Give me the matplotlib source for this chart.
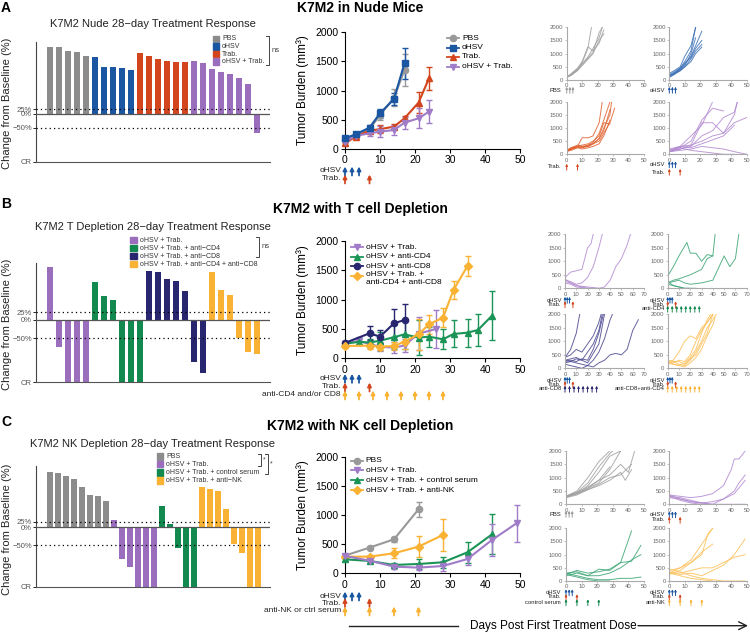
import numpy as np
import matplotlib
matplotlib.use('Agg')
import matplotlib.pyplot as plt
from matplotlib.transforms import blended_transform_factory
from matplotlib.patches import Rectangle

plt.rcParams['font.family'] = ['Liberation Sans', 'DejaVu Sans']

# colours
c_grey = '#8c8c8c'
c_blue = '#1b56a2'
c_orange = '#d3461d'
c_purple = '#9b6dbd'
c_green = '#12894f'
c_navy = '#28266f'
c_yellow = '#f9b233'

# ---------------- waterfall data (% change at day 28, CR = -100) ----------------
wa_pbs = [336, 335, 317, 308, 292]
wa_ohsv = [287, 235, 235, 232, 220]
wa_trab = [303, 292, 275, 263, 260, 260]
wa_combo = [263, 253, 223, 210, 202, 182, 152, -57]

wb_combo = [177, -60, -100, -100, -100]
wb_cd4 = [128, 78, 66, -100, -100, -100]
wb_cd8 = [165, 162, 138, 130, 97, -77, -90]
wb_both = [160, 99, 84, -50, -66, -68]

wc_pbs = [248, 242, 230, 214, 180, 144, 141, 117]
wc_combo = [31, -67, -76, -100, -100, -100]
wc_ctrl = [95, 15, -53, -100, -100]
wc_nk = [181, 171, 163, 82, -47, -59, -100, -100]

# ---------------- mean tumour burden (mm3) ----------------
a_pbs_d = [0, 3, 7, 10, 14, 17]
a_pbs = [150, 220, 340, 580, 880, 1354]
a_pbs_e = [30, 40, 50, 80, 150, 280]
a_ohsv_d = [0, 3, 7, 10, 14, 17]
a_ohsv = [183, 251, 366, 611, 857, 1469]
a_ohsv_e = [30, 40, 50, 80, 110, 270]
a_trab_d = [0, 3, 7, 10, 14, 17, 21, 24]
a_trab = [97, 211, 314, 340, 383, 526, 794, 1211]
a_trab_e = [25, 30, 40, 70, 40, 40, 180, 200]
a_combo_d = [0, 3, 7, 10, 14, 17, 21, 24]
a_combo = [126, 223, 269, 297, 326, 451, 526, 640]
a_combo_e = [20, 40, 50, 90, 90, 100, 170, 200]

b_combo_d = [0, 4, 7, 10, 14, 17, 21, 26]
b_combo = [250, 300, 240, 200, 180, 220, 420, 500]
b_combo_e = [30, 60, 70, 80, 90, 110, 280, 320]
b_cd4_d = [0, 4, 7, 10, 14, 17, 21, 24, 28, 31, 35, 38, 42]
b_cd4 = [250, 280, 270, 300, 360, 409, 352, 369, 324, 415, 437, 483, 727]
b_cd4_e = [30, 50, 60, 150, 200, 250, 300, 170, 170, 230, 240, 270, 420]
b_cd8_d = [0, 7, 10, 14, 17]
b_cd8 = [262, 426, 369, 597, 653]
b_cd8_e = [30, 120, 110, 240, 280]
b_both_d = [0, 7, 10, 14, 17, 21, 24, 28, 31, 35]
b_both = [210, 216, 199, 210, 284, 409, 580, 693, 1165, 1574]
b_both_e = [30, 50, 50, 60, 120, 260, 160, 160, 160, 165]

c_pbs_d = [0, 7, 14, 21]
c_pbs = [305, 443, 586, 1103]
c_pbs_e = [25, 30, 40, 125]
c_combo_d = [0, 7, 14, 21, 28, 35, 42, 49]
c_combo = [299, 218, 115, 98, 126, 247, 575, 862]
c_combo_e = [30, 30, 40, 40, 80, 110, 270, 320]
c_ctrl_d = [0, 7, 14, 21, 28, 35, 42]
c_ctrl = [241, 213, 144, 161, 190, 362, 672]
c_ctrl_e = [30, 30, 40, 80, 90, 180, 345]
c_nk_d = [0, 7, 14, 21, 28]
c_nk = [287, 287, 345, 460, 661]
c_nk_e = [30, 30, 85, 180, 280]

# dosing days
ohsv_days = [0, 2, 4]
trab_days = [0, 7]
tdep_days = [0, 4, 8, 12, 16, 20, 24, 28]
nk_days = [0, 7, 14, 21]

# ---------------- individual mice ----------------
sa_pbs = [([0, 3, 7, 10, 14, 16], [100, 250, 450, 700, 1300, 2000]),
          ([0, 3, 7, 10, 14, 17, 21, 23], [100, 200, 400, 600, 900, 1200, 1600, 2000]),
          ([0, 3, 7, 10, 14, 17, 21, 24], [100, 220, 420, 650, 1250, 1100, 1400, 1900]),
          ([0, 3, 7, 10, 14, 17, 21, 24], [100, 200, 380, 550, 800, 1000, 1500, 1750]),
          ([0, 3, 7, 10, 14, 17, 21, 23], [100, 180, 350, 600, 850, 1050, 1800, 2000])]
sa_ohsv = [([0, 3, 7, 10, 14, 17], [250, 350, 500, 900, 1300, 2000]),
           ([0, 3, 7, 10, 14, 17], [150, 250, 450, 700, 1100, 2000]),
           ([0, 3, 7, 10, 14, 17, 21], [200, 300, 450, 600, 900, 1300, 1850]),
           ([0, 3, 7, 10, 14, 17, 21], [150, 250, 400, 650, 850, 1200, 1500]),
           ([0, 3, 7, 10, 14, 17, 21], [100, 200, 350, 500, 800, 1100, 1350]),
           ([0, 3, 7, 10, 14, 17], [120, 220, 400, 550, 1000, 1600]),
           ([0, 3, 7, 10, 14, 17, 21], [180, 250, 350, 500, 700, 1000, 1250])]
sa_trab = [([0, 3, 7, 10, 14, 17, 21, 23], [100, 250, 300, 630, 630, 700, 1200, 2000]),
           ([0, 3, 7, 10, 14, 17, 21, 24, 28], [150, 250, 350, 300, 350, 450, 800, 1300, 2000]),
           ([0, 3, 7, 10, 14, 17, 21, 24, 28, 29], [100, 200, 300, 250, 300, 400, 600, 1000, 1500, 2000]),
           ([0, 3, 7, 10, 14, 17, 21, 24, 28, 31], [120, 150, 250, 300, 300, 400, 500, 800, 1200, 1750]),
           ([0, 3, 7, 10, 14, 17, 21, 24, 28], [100, 200, 300, 350, 400, 500, 700, 1200, 1150]),
           ([0, 3, 7, 10, 14, 17, 21, 24, 28], [150, 250, 300, 250, 350, 400, 600, 900, 1700]),
           ([0, 3, 7, 10, 14, 17, 21, 24, 28], [120, 200, 250, 200, 250, 300, 400, 700, 1300])]
sa_combo = [([0, 7, 14, 21, 28], [100, 300, 700, 1100, 2000]),
            ([0, 7, 14, 21, 28, 35], [100, 250, 500, 1300, 1750, 1650]),
            ([0, 7, 14, 21, 28, 35, 42, 44], [150, 300, 350, 1200, 1200, 800, 1500, 2000]),
            ([0, 7, 14, 21, 28, 35, 42, 44], [100, 200, 300, 700, 900, 1400, 1600, 2000]),
            ([0, 7, 14, 21, 28, 35, 42, 50], [100, 200, 350, 500, 700, 800, 1200, 1400]),
            ([0, 7, 14, 21, 28, 35, 42], [200, 300, 250, 400, 550, 700, 1100]),
            ([0, 7, 14, 21, 28, 35, 42, 50], [100, 150, 200, 300, 250, 200, 100, 0]),
            ([0, 7, 14, 21, 28, 35, 42], [150, 250, 150, 100, 50, 0, 0])]

sb_combo = [([0, 5, 10, 15, 20, 23, 25], [400, 600, 650, 700, 1500, 1650, 2000]),
            ([0, 5, 10, 15, 20, 25, 30, 33], [300, 250, 150, 200, 400, 800, 1500, 2000]),
            ([0, 5, 10, 20, 30, 35, 40, 45, 50, 55, 58], [350, 200, 100, 50, 0, 50, 300, 800, 1100, 1600, 2000]),
            ([0, 5, 10, 20, 30], [200, 150, 50, 0, 0]),
            ([0, 5, 10, 15, 20, 25], [250, 200, 100, 50, 0, 0])]
sb_cd4 = [([0, 5, 10, 17, 20, 25, 30, 35, 40, 42], [450, 800, 1200, 1700, 1300, 1300, 1000, 1250, 1200, 2000]),
          ([0, 5, 10, 20, 30, 35, 40], [200, 300, 350, 500, 700, 1100, 1200]),
          ([0, 5, 10, 15, 20, 30, 40, 50, 55, 60, 63], [200, 250, 300, 200, 150, 200, 300, 1200, 800, 1100, 2000]),
          ([0, 5, 10, 15, 20, 25], [250, 100, 50, 0, 0, 0]),
          ([0, 5, 10, 15, 20], [150, 100, 50, 0, 0])]
sb_cd8 = [([0, 5, 10, 13], [400, 700, 1300, 2000]),
          ([0, 5, 10, 15, 20, 25, 30, 32], [400, 500, 700, 600, 900, 1200, 1700, 2000]),
          ([0, 5, 10, 15, 20, 25, 30, 33], [300, 350, 400, 300, 600, 900, 1400, 2000]),
          ([0, 5, 10, 15, 20, 25, 30, 34], [250, 300, 250, 350, 300, 700, 1300, 2000]),
          ([0, 5, 10, 15, 20, 25, 30, 35, 40, 42], [200, 250, 200, 150, 100, 300, 600, 1100, 1800, 2000]),
          ([0, 5, 10, 15, 20, 25, 30, 35, 40, 45, 50, 55, 60, 65], [150, 100, 50, 0, 100, 50, 200, 300, 500, 550, 500, 700, 1400, 1800]),
          ([0, 5, 10, 15, 20, 30, 35], [300, 250, 350, 300, 200, 900, 2000])]
sb_both = [([0, 5, 10, 15, 20, 25, 30, 35, 40], [250, 300, 600, 1000, 1200, 1100, 1500, 1700, 2000]),
           ([0, 5, 10, 15, 20, 25, 30, 35, 40], [200, 200, 300, 250, 500, 1000, 1400, 1700, 2000]),
           ([0, 5, 10, 15, 20, 25, 30, 35, 38], [200, 150, 100, 200, 400, 700, 1300, 1800, 2000]),
           ([0, 5, 10, 15, 20, 25, 30, 35, 40, 43], [300, 250, 150, 100, 300, 600, 1000, 1500, 1800, 2000]),
           ([0, 5, 10, 15, 20, 25, 30, 35, 40], [200, 250, 250, 150, 350, 500, 900, 1300, 2000]),
           ([0, 5, 10, 15, 20, 25, 30, 35, 40, 42], [250, 150, 100, 50, 200, 400, 700, 1200, 1600, 1900])]

sc_pbs = [([0, 7, 14, 21, 28], [300, 500, 1000, 1600, 2000]),
          ([0, 7, 14, 21, 28, 30], [300, 450, 800, 1400, 1900, 2000]),
          ([0, 7, 14, 21, 28, 35], [250, 400, 700, 1200, 1800, 2000]),
          ([0, 7, 14, 21, 28, 35, 40, 44], [300, 400, 600, 900, 1100, 1500, 1200, 2000]),
          ([0, 7, 14, 21, 28, 35], [280, 400, 600, 800, 1300, 2000]),
          ([0, 7, 14, 21, 28, 35, 42], [250, 350, 550, 750, 1000, 1100, 1500]),
          ([0, 7, 14, 21, 28, 35, 38, 42], [300, 400, 550, 700, 900, 1200, 900, 1300]),
          ([0, 7, 14, 21, 28], [300, 450, 650, 900, 1400])]
sc_combo = [([0, 7, 14, 21, 28, 35, 40, 42, 45, 49], [350, 300, 250, 300, 400, 700, 1300, 1700, 1700, 2000]),
            ([0, 7, 14, 21, 28, 35, 42, 45, 49], [300, 250, 150, 50, 0, 200, 500, 800, 1100]),
            ([0, 7, 14, 21, 28, 35, 42, 49], [350, 200, 100, 50, 100, 200, 400, 900]),
            ([0, 7, 14, 21, 28, 35, 42, 49], [250, 200, 100, 50, 0, 0, 0, 0]),
            ([0, 7, 14, 21], [300, 150, 50, 0])]
sc_ctrl = [([0, 7, 14, 21, 28, 35, 42], [300, 350, 200, 450, 400, 700, 1900]),
           ([0, 7, 14, 21, 28, 35, 42, 48], [250, 400, 300, 350, 450, 700, 750, 1350]),
           ([0, 7, 14, 21, 28, 35, 42, 48], [200, 300, 200, 200, 300, 500, 800, 1000]),
           ([0, 7, 14, 21, 28, 35, 42, 48], [300, 200, 100, 50, 50, 100, 100, 150]),
           ([0, 7, 14, 21, 28], [250, 150, 50, 0, 0])]
sc_nk = [([0, 7, 14, 21, 28], [300, 500, 800, 1400, 2000]),
         ([0, 7, 14, 21, 25, 28], [400, 500, 700, 1000, 1800, 2000]),
         ([0, 7, 14, 21, 28], [250, 400, 700, 1100, 1400]),
         ([0, 7, 14, 21, 28, 35, 42, 49], [300, 300, 400, 500, 500, 700, 900, 1000]),
         ([0, 7, 14, 21, 28, 35, 42, 49], [350, 250, 300, 200, 400, 600, 1000, 1600]),
         ([0, 7, 14, 21, 28], [300, 200, 100, 50, 0]),
         ([0, 7, 14, 21, 28, 35, 42, 49], [450, 350, 200, 100, 50, 0, 0, 0])]

W, H = 750, 633
fig = plt.figure(figsize=(W / 100, H / 100), dpi=100)


def add_ax(l, t, r, b):
    return fig.add_axes([l / W, 1 - b / H, (r - l) / W, (b - t) / H])


ov = fig.add_axes([0, 0, 1, 1])
ov.set_xlim(0, W)
ov.set_ylim(H, 0)
ov.axis('off')
ov.patch.set_alpha(0)
ov.set_zorder(10)


def waterfall(box, groups, p, m50, cr, top, x0, step):
    ax = add_ax(*box)
    vals = np.concatenate([g for g, c in groups])
    cols = sum([[c] * len(g) for g, c in groups], [])
    xs = [-100, -50, 0, 1000]
    ys = [-cr, -m50, 0, 1000 * p]
    ax.set_yscale('function', functions=(lambda v: np.interp(v, xs, ys),
                                         lambda y: np.interp(y, ys, xs)))
    ax.bar(np.arange(len(vals)), vals, width=0.74, color=cols, zorder=2)
    ax.set_ylim(-100, top)
    l, r = box[0], box[2]
    ax.set_xlim((l - x0) / step, (r - x0) / step)
    ax.axhline(25, color='k', ls=(0, (1, 2.5)), lw=0.9, zorder=3)
    ax.axhline(-50, color='k', ls=(0, (1, 2.5)), lw=0.9, zorder=3)
    ax.axhline(0, color='#555', lw=0.9, zorder=3)
    for s in ['top', 'right']:
        ax.spines[s].set_visible(False)
    ax.spines['left'].set_color('#444')
    ax.spines['bottom'].set_color('#555')
    ax.set_xticks([])
    ax.set_yticks([-100, -50, 0, 25])
    ax.set_yticklabels(['CR', '\u221250%', '0%', '25%'])
    ax.tick_params(axis='y', length=2, width=0.6, labelsize=5.5, labelcolor='#555', pad=1)
    return ax


def line_chart(box, series):
    ax = add_ax(*box)
    for d, m, e, c, mk in series:
        eb = ax.errorbar(d, m, yerr=e, color=c, marker=mk, ms=4.5, lw=1.5,
                         elinewidth=1, capsize=2.5, capthick=1, zorder=3)
        for art in eb.get_children():
            art.set_clip_on(False)
    ax.set_xlim(0, 50)
    ax.set_ylim(0, 2000)
    ax.set_xticks(range(0, 51, 10))
    ax.set_yticks(range(0, 2001, 500))
    for s in ['top', 'right']:
        ax.spines[s].set_visible(False)
    ax.tick_params(length=3, width=0.8, labelsize=7.5, pad=1.5)
    return ax


def spaghetti(box, mice, color, xmax):
    ax = add_ax(*box)
    for d, v in mice:
        ax.plot(d, v, color=color, lw=0.7, alpha=0.85)
    ax.set_xlim(0, xmax)
    ax.set_ylim(0, 2000)
    ax.set_xticks(range(0, xmax + 1, 10))
    ax.set_yticks(range(0, 2001, 500))
    for s in ['top', 'right']:
        ax.spines[s].set_visible(False)
    for s in ['left', 'bottom']:
        ax.spines[s].set_color('#aaa')
        ax.spines[s].set_linewidth(0.8)
    ax.tick_params(length=1.5, width=0.5, color='#aaa', labelsize=4.3, labelcolor='#666', pad=1)
    return ax


def doses(ax, days, y, color, h=4.5, lw=1.3, ms=5.5):
    tr = blended_transform_factory(ax.transData, ov.transData)
    for d in days:
        ov.annotate('', xy=(d, y - h), xytext=(d, y + h), xycoords=tr, textcoords=tr,
                    arrowprops=dict(arrowstyle='-|>', color=color, lw=lw, mutation_scale=ms,
                                    shrinkA=0, shrinkB=0))


def dose_labels(x, ys, labels, fs=6):
    for y, t in zip(ys, labels):
        ov.text(x, y, t, ha='right', va='center', fontsize=fs, color='#222')


def box_legend(x, ys, labels, colors, fs=5):
    for y, t, c in zip(ys, labels, colors):
        ov.add_patch(Rectangle((x, y - 3.4), 6.6, 6.8, color=c))
        ov.text(x + 9.5, y, t, va='center', fontsize=fs, color='#333')


def line_legend(x, ys, labels, colors, markers, fs=6):
    for y, t, c, mk in zip(ys, labels, colors, markers):
        ov.plot([x - 6, x + 6], [y, y], color=c, lw=1.3)
        ov.plot([x], [y], marker=mk, color=c, ms=4.5)
        if '\n' in t:
            ov.text(x + 9, y - 4.5, t, va='top', fontsize=fs, linespacing=1.15)
        else:
            ov.text(x + 9, y, t, va='center', fontsize=fs)


def bracket(x, y1, y2, label, fs=5.5):
    ov.plot([x - 3, x, x, x - 3], [y1, y1, y2, y2], color='#444', lw=0.7)
    ov.text(x + 2, (y1 + y2) / 2, label, va='center', fontsize=fs, color='#444')


# ---------------- panel A ----------------
waterfall((36, 42, 270, 162), [(wa_pbs, c_grey), (wa_ohsv, c_blue), (wa_trab, c_orange),
                                (wa_combo, c_purple)], 0.2, 14, 48, 360, 50, 9)
axa = line_chart((345, 32.3, 520, 149),
                 [(a_pbs_d, a_pbs, a_pbs_e, '#999999', 'o'),
                  (a_trab_d, a_trab, a_trab_e, c_orange, '^'),
                  (a_combo_d, a_combo, a_combo_e, '#a07cc8', 'v'),
                  (a_ohsv_d, a_ohsv, a_ohsv_e, c_blue, 's')])
sa1 = spaghetti((566.7, 27.3, 644, 80), sa_pbs, '#a0a0a0', 50)
sa2 = spaghetti((669.3, 27.3, 746.7, 80), sa_ohsv, '#3d71b6', 50)
sa3 = spaghetti((566.7, 101.7, 644, 154.3), sa_trab, '#e0622f', 50)
sa4 = spaghetti((669.3, 101.7, 746.7, 154.3), sa_combo, '#b28ad1', 50)

# ---------------- panel B ----------------
waterfall((36, 263.3, 270, 382.3), [(wb_combo, c_purple), (wb_cd4, c_green), (wb_cd8, c_navy),
                                     (wb_both, c_yellow)], 0.296, 18.6, 62.6, 190, 50, 9)
axb = line_chart((345, 241, 520, 358.3),
                 [(b_combo_d, b_combo, b_combo_e, '#a07cc8', 'v'),
                  (b_cd4_d, b_cd4, b_cd4_e, '#1b9457', '^'),
                  (b_cd8_d, b_cd8, b_cd8_e, c_navy, 'o'),
                  (b_both_d, b_both, b_both_e, c_yellow, 'D')])
sb1 = spaghetti((565, 234.3, 644, 288.3), sb_combo, '#b28ad1', 70)
sb2 = spaghetti((667.7, 234.3, 746.7, 288.3), sb_cd4, '#3aa574', 70)
sb3 = spaghetti((565, 314.3, 644, 368.3), sb_cd8, '#4a4790', 70)
sb4 = spaghetti((667.7, 314.3, 746.7, 368.3), sb_both, '#fcc05a', 70)

# ---------------- panel C ----------------
waterfall((36, 465.7, 270, 586.7), [(wc_pbs, c_grey), (wc_combo, c_purple), (wc_ctrl, c_green),
                                     (wc_nk, c_yellow)], 0.224, 17.7, 59.4, 275, 49.7, 8)
axc = line_chart((345, 457.3, 520, 573.3),
                 [(c_pbs_d, c_pbs, c_pbs_e, '#999999', 'o'),
                  (c_nk_d, c_nk, c_nk_e, c_yellow, 'D'),
                  (c_ctrl_d, c_ctrl, c_ctrl_e, '#1b9457', '^'),
                  (c_combo_d, c_combo, c_combo_e, '#a07cc8', 'v')])
sc1 = spaghetti((566, 451, 644, 504.3), sc_pbs, '#a0a0a0', 50)
sc2 = spaghetti((669.3, 451, 746.7, 504.3), sc_combo, '#b28ad1', 50)
sc3 = spaghetti((566, 528.3, 644, 581), sc_ctrl, '#3aa574', 50)
sc4 = spaghetti((669.3, 528.3, 746.7, 581), sc_nk, '#fcc05a', 50)

# ---------------- text, legends, annotations ----------------
for lab, y in [('A', 8.5), ('B', 203.5), ('C', 422)]:
    ov.text(1, y, lab, fontsize=10, fontweight='bold', va='center')
for t, y in [('K7M2 in Nude Mice', 8.5), ('K7M2 with T cell Depletion', 209),
             ('K7M2 with NK cell Depletion', 426)]:
    ov.text(360, y, t, fontsize=10, fontweight='bold', ha='center', va='center')
for t, y in [('K7M2 Nude 28\u2212day Treatment Response', 24),
             ('K7M2 T Depletion 28\u2212day Treatment Response', 227),
             ('K7M2 NK Depletion 28\u2212day Treatment Response', 444)]:
    ov.text(153, y, t, fontsize=8, ha='center', va='center', color='#222')
for y in [103, 324, 529]:
    ov.text(7, y, 'Change from Baseline (%)', fontsize=8, rotation=90, ha='center', va='center', color='#222')
for y in [90, 300, 515]:
    ov.text(303, y, 'Tumor Burden (mm\u00b3)', fontsize=8.5, rotation=90, ha='center', va='center')

box_legend(212.7, [39, 46.5, 54, 61.5], ['PBS', 'oHSV', 'Trab.', 'oHSV + Trab.'],
           [c_grey, c_blue, c_orange, c_purple])
box_legend(130, [240, 248, 256, 264],
           ['oHSV + Trab.', 'oHSV + Trab. + anti\u2212CD4', 'oHSV + Trab. + anti\u2212CD8',
            'oHSV + Trab. + anti\u2212CD4 + anti\u2212CD8'],
           [c_purple, c_green, c_navy, c_yellow])
box_legend(156.7, [456.3, 464, 472.2, 480.3],
           ['PBS', 'oHSV + Trab.', 'oHSV + Trab. + control serum', 'oHSV + Trab. + anti\u2212NK'],
           [c_grey, c_purple, c_green, c_yellow])
bracket(269.3, 36, 65, 'ns')
bracket(259.3, 236.7, 257.3, 'ns')
bracket(261, 454.3, 465.7, '*', fs=5)
bracket(267.7, 454.3, 474.3, '*', fs=5)

line_legend(453, [38, 47.5, 57, 66.5], ['PBS', 'oHSV', 'Trab.', 'oHSV + Trab.'],
            ['#999999', c_blue, c_orange, '#a07cc8'], ['o', 's', '^', 'v'])
line_legend(356.7, [247.3, 256.7, 266, 275.7],
            ['oHSV + Trab.', 'oHSV + anti-CD4', 'oHSV + anti-CD8', 'oHSV + Trab. +\nanti-CD4 + anti-CD8'],
            ['#a07cc8', '#1b9457', c_navy, c_yellow], ['v', '^', 'o', 'D'])
line_legend(356.7, [460.7, 470, 480, 490],
            ['PBS', 'oHSV + Trab.', 'oHSV + Trab. + control serum', 'oHSV + Trab. + anti-NK'],
            ['#999999', '#a07cc8', '#1b9457', c_yellow], ['o', 'v', '^', 'D'])

# dosing schedules under main charts
dose_labels(341, [170, 178.7], ['oHSV', 'Trab.'])
doses(axa, ohsv_days, 171, c_blue)
doses(axa, trab_days, 179, c_orange)
dose_labels(341, [378.3, 386.7, 395], ['oHSV', 'Trab.', 'anti-CD4 and/or CD8'])
doses(axb, ohsv_days, 378.3, c_blue)
doses(axb, trab_days, 387, c_orange)
doses(axb, tdep_days, 395, c_yellow)
dose_labels(341, [596.7, 603.3, 611], ['oHSV', 'Trab.', 'anti-NK or ctrl serum'])
doses(axc, ohsv_days, 596, c_blue)
doses(axc, trab_days, 602.5, c_orange)
doses(axc, nk_days, 611, c_yellow)

# dosing schedules under small panels
sk = dict(h=3.2, lw=0.7, ms=3)
dose_labels(561, [90], ['PBS'], fs=4.2)
doses(sa1, ohsv_days, 90, '#999999', **sk)
dose_labels(665, [90], ['oHSV'], fs=4.2)
doses(sa2, ohsv_days, 90, c_blue, **sk)
dose_labels(561, [167], ['Trab.'], fs=4.2)
doses(sa3, trab_days, 167, c_orange, **sk)
dose_labels(665, [164, 172], ['oHSV', 'Trab.'], fs=4.2)
doses(sa4, ohsv_days, 164.5, c_blue, **sk)
doses(sa4, trab_days, 172, c_orange, **sk)

for ax, x, lab, col in [(sb1, 561.7, None, None), (sb2, 665, 'anti-CD4', c_green),
                        (sb3, 561.7, 'anti-CD8', c_navy), (sb4, 665, 'anti-CD8+anti-CD4', c_yellow)]:
    y0 = 300 if ax in (sb1, sb2) else 380
    labs = ['oHSV', 'Trab.'] + ([lab] if lab else [])
    dose_labels(x, [y0, y0 + 4, y0 + 8.5][:len(labs)], labs, fs=4.2)
    doses(ax, ohsv_days, y0, c_blue, **sk)
    doses(ax, trab_days, y0 + 4.5, c_orange, **sk)
    if lab:
        doses(ax, tdep_days, y0 + 9, col, **sk)

dose_labels(561, [514], ['PBS'], fs=4.2)
doses(sc1, ohsv_days, 514, '#999999', **sk)
dose_labels(665, [515, 519.5], ['oHSV', 'Trab.'], fs=4.2)
doses(sc2, ohsv_days, 514.5, c_blue, **sk)
doses(sc2, trab_days, 520, c_orange, **sk)
for ax, x, lab, col in [(sc3, 561, 'control serum', c_green), (sc4, 665, 'anti-NK', c_yellow)]:
    dose_labels(x, [592.3, 596.7, 602.3], ['oHSV', 'Trab.', lab], fs=4.2)
    doses(ax, ohsv_days, 592.5, c_blue, **sk)
    doses(ax, trab_days, 597.5, c_orange, **sk)
    doses(ax, nk_days, 602.5, col, **sk)

# x axis caption
ov.plot([349, 458], [625.7, 625.7], color='#222', lw=1)
ov.text(470, 625.7, 'Days Post First Treatment Dose', fontsize=8.5, va='center')
ov.annotate('', xy=(748, 625.7), xytext=(638, 625.7),
            arrowprops=dict(arrowstyle='->', color='#222', lw=1, mutation_scale=14, shrinkA=0, shrinkB=0))

fig.savefig('out.png', dpi=100)
